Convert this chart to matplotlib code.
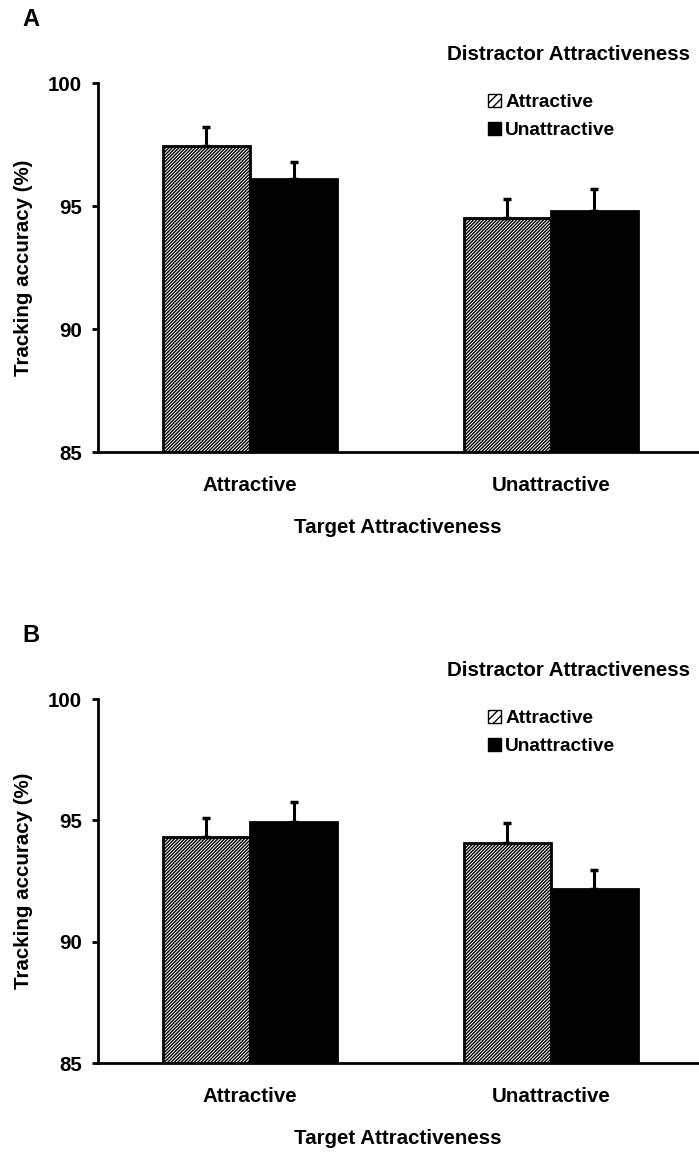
import numpy as np
import matplotlib
matplotlib.use('Agg')
import matplotlib.pyplot as plt
from matplotlib.patches import Patch

plt.rcParams['font.family'] = ['Liberation Sans', 'DejaVu Sans']
plt.rcParams['font.weight'] = 'bold'
plt.rcParams['hatch.linewidth'] = 1.0

targets = ['Attractive', 'Unattractive']
distractors = ['Attractive', 'Unattractive']

# experiment A: mean tracking accuracy (%) and SE
a_attr = [97.45, 94.5]
a_unattr = [96.1, 94.8]
a_attr_se = [0.78, 0.77]
a_unattr_se = [0.7, 0.9]

# experiment B
b_attr = [94.3, 94.07]
b_unattr = [94.93, 92.17]
b_attr_se = [0.8, 0.82]
b_unattr_se = [0.83, 0.78]

W, H = 699, 1153
fig = plt.figure(figsize=(W / 100, H / 100), dpi=100)
FS = 14.8
HATCH = '/' * 10


def fy(px):
    return 1 - px / H


def panel(top, bottom, attr, unattr, attr_se, unattr_se, letter):
    ax = fig.add_axes([98 / W, fy(bottom), 1 - 98 / W - 0.001, (bottom - top) / H])
    x = np.arange(len(targets))
    w = 0.29
    ax.bar(x - w / 2, attr, w, color='white', edgecolor='black',
           hatch=HATCH, linewidth=2, zorder=2)
    ax.bar(x + w / 2, unattr, w, color='black', edgecolor='black',
           linewidth=2, zorder=2)
    ax.errorbar(x - w / 2, attr, yerr=[np.zeros(2), attr_se], fmt='none',
                ecolor='black', elinewidth=2.2, capsize=3, capthick=2.5, zorder=3)
    ax.errorbar(x + w / 2, unattr, yerr=[np.zeros(2), unattr_se], fmt='none',
                ecolor='black', elinewidth=2.2, capsize=3, capthick=2.5, zorder=3)

    ax.set_ylim(85, 100)
    ax.set_xlim(-0.505, 1.49)
    ax.set_yticks([85, 90, 95, 100])
    ax.set_xticks(x)
    ax.set_xticklabels(targets)
    for s in ['top', 'right']:
        ax.spines[s].set_visible(False)
    for s in ['left', 'bottom']:
        ax.spines[s].set_linewidth(2)
    ax.tick_params(axis='y', length=4.5, width=2, pad=7, labelsize=FS)
    ax.tick_params(axis='x', length=0, pad=17, labelsize=FS)
    ax.set_ylabel('Tracking accuracy (%)', fontsize=FS, fontweight='bold', labelpad=11)
    ax.set_xlabel('Target Attractiveness', fontsize=FS, fontweight='bold', labelpad=17)

    fig.text(22 / W, fy(top - 64), letter, fontsize=17, fontweight='bold',
             ha='left', va='center')
    fig.text(690 / W, fy(top - 28), 'Distractor Attractiveness', fontsize=FS,
             fontweight='bold', ha='right', va='center')

    handles = [Patch(facecolor='white', edgecolor='black', hatch='////', linewidth=1),
               Patch(facecolor='black', edgecolor='black')]
    ax.legend(handles, distractors, loc='upper left',
              bbox_to_anchor=(488 / W, fy(top + 11)), bbox_transform=fig.transFigure,
              frameon=False, borderpad=0, borderaxespad=0,
              handlelength=0.7, handleheight=0.7, handletextpad=0.2,
              labelspacing=0.55, prop={'weight': 'bold', 'size': 13.8})
    return ax


panel(83, 452, a_attr, a_unattr, a_attr_se, a_unattr_se, 'A')
panel(699, 1063, b_attr, b_unattr, b_attr_se, b_unattr_se, 'B')

fig.savefig('out.png', dpi=100)
